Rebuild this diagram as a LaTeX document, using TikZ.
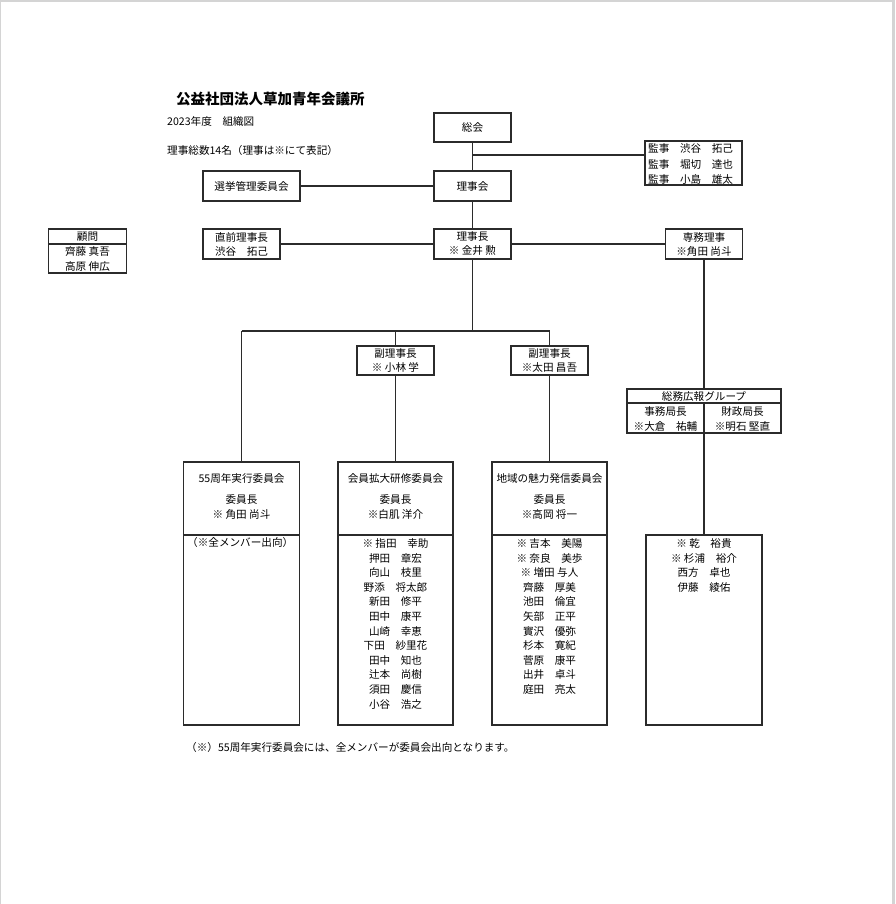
\documentclass[tikz,border=0pt]{standalone}
\usepackage{fontspec}
\newfontfamily\jp{Noto Sans CJK JP}
\definecolor{linec}{HTML}{2B2B2B}
\definecolor{txtc}{HTML}{000000}
\definecolor{pagegray}{HTML}{D4D4D4}
\begin{document}
\begin{tikzpicture}[x=1pt,y=-1pt,
  ln/.style={draw=linec,line width=1.3pt},
  bx/.style={draw=linec,line width=1.3pt,fill=white,inner sep=0pt,align=center,text=txtc,
    font=\jp\fontsize{10.6}{14}\selectfont},
  tx/.style={inner sep=0pt,text=txtc,font=\jp\fontsize{10.6}{14}\selectfont},
]
\fill[pagegray] (0,0) rectangle (895,904);
\fill[white] (1,2) rectangle (892,904);
\useasboundingbox (0,0) rectangle (895,904);

% headings
\node[tx,anchor=west,font=\jp\bfseries\fontsize{14.5}{16}\selectfont] (title) at (176,99) {公益社団法人草加青年会議所};
\node[tx,anchor=west] (year) at (167,121) {2023年度　組織図};
\node[tx,anchor=west] (count) at (167,150) {理事総数14名（理事は※にて表記）};

% top boxes
\node[bx,minimum width=77pt,minimum height=29pt] (sokai) at (472.5,127.5) {総会};
\node[bx,minimum width=77pt,minimum height=30pt] (rijikai) at (472.5,186) {理事会};
\node[bx,minimum width=97pt,minimum height=30pt] (senkyo) at (251.5,186) {選挙管理委員会};
\node[bx,minimum width=97pt,minimum height=44pt] (kanji) at (693.5,163) {};
\node[tx,anchor=west] (kanji1) at (648,148) {監事　渋谷　拓己};
\node[tx,anchor=west] (kanji2) at (648,164) {監事　堀切　達也};
\node[tx,anchor=west] (kanji3) at (648,179) {監事　小島　雄太};

\coordinate (j1) at (472.5,155);
\draw[ln] (sokai) -- (rijikai);
\draw[ln] (j1) -- (kanji.west |- j1);
\draw[ln] (senkyo) -- (rijikai);

% second tier
\node[bx,minimum width=77pt,minimum height=30pt] (rijicho) at (472.5,244) {理事長\\※ 金井 勲};
\node[bx,minimum width=77pt,minimum height=30pt] (chokuzen) at (241.5,244) {直前理事長\\渋谷　拓己};
\node[bx,minimum width=77pt,minimum height=30pt] (senmu) at (704,244) {専務理事\\※角田 尚斗};
\node[bx,minimum width=78pt,minimum height=44pt] (komon) at (87.5,251) {};
\draw[ln] (komon.west |- 0,244) -- (komon.east |- 0,244);
\node[tx] (komon0) at (87.5,236.5) {顧問};
\node[tx] (komon1) at (87.5,252) {齊藤 真吾};
\node[tx] (komon2) at (87.5,266) {高原 伸広};

\draw[ln] (rijikai) -- (rijicho);
\draw[ln] (chokuzen) -- (rijicho);
\draw[ln] (rijicho) -- (senmu);

% third tier
\coordinate (hl) at (241.5,331);
\coordinate (hm) at (472.5,331);
\coordinate (hr) at (549.5,331);
\node[bx,minimum width=77pt,minimum height=29pt] (fuku1) at (395.5,360.5) {副理事長\\※ 小林 学};
\node[bx,minimum width=77pt,minimum height=29pt] (fuku2) at (549.5,360.5) {副理事長\\※太田 昌吾};
\draw[ln] (rijicho) -- (hm);
\draw[ln] (hl) -- (hr);
\draw[ln] (fuku1.north |- hl) -- (fuku1);
\draw[ln] (hr) -- (fuku2);

% committees
\node[bx,minimum width=116pt,minimum height=263pt] (c1) at (241.5,593.5) {};
\node[bx,minimum width=115pt,minimum height=263pt] (c2) at (395.5,593.5) {};
\node[bx,minimum width=115pt,minimum height=263pt] (c3) at (549.5,593.5) {};
\draw[ln] (hl) -- (c1);
\draw[ln] (fuku1) -- (c2);
\draw[ln] (fuku2) -- (c3);

% member box 4 and group box
\node[bx,minimum width=116pt,minimum height=190pt] (m4) at (704,630) {};
\draw[ln] (senmu) -- (m4.north);
\node[bx,minimum width=154pt,minimum height=44pt] (soumu) at (704,411) {};
\draw[ln] (soumu.west |- 0,403) -- (soumu.east |- 0,403);
\draw[ln] (704,403) -- (soumu.south);
\node[tx] (soumu0) at (704,396) {総務広報グループ};
\node[tx] (soumu1) at (665.5,411.5) {事務局長};
\node[tx] (soumu2) at (665.5,426) {※大倉　祐輔};
\node[tx] (soumu3) at (742.5,411.5) {財政局長};
\node[tx] (soumu4) at (742.5,426) {※明石 堅直};

\foreach \b in {c1,c2,c3} {
  \draw[ln] (\b.west |- 0,535) -- (\b.east |- 0,535);
}
\node[tx] (c1t) at (241.5,478) {55周年実行委員会};
\node[tx] (c1h) at (241.5,499) {委員長};
\node[tx] (c1n) at (241.5,514) {※ 角田 尚斗};
\node[tx,anchor=west] (c1m) at (187,542) {（※全メンバー出向）};

\node[tx] (c2t) at (395.5,478) {会員拡大研修委員会};
\node[tx] (c2h) at (395.5,499) {委員長};
\node[tx] (c2n) at (395.5,514) {※白肌 洋介};

\node[tx] (c3t) at (549.5,478) {地域の魅力発信委員会};
\node[tx] (c3h) at (549.5,499) {委員長};
\node[tx] (c3n) at (549.5,514) {※高岡 将一};

\foreach \n [count=\i from 0] in {※ 指田　幸助,押田　章宏,向山　枝里,野添　将太郎,新田　修平,田中　康平,山崎　幸恵,下田　紗里花,田中　知也,辻本　尚樹,須田　慶信,小谷　浩之}
  \node[tx] (c2m\i) at (395.5,543.5+14.6*\i) {\n};

\foreach \n [count=\i from 0] in {※ 吉本　美陽,※ 奈良　美歩,※ 増田 与人,齊藤　厚美,池田　倫宜,矢部　正平,實沢　優弥,杉本　寛紀,菅原　康平,出井　卓斗,庭田　亮太}
  \node[tx] (c3m\i) at (549.5,543.5+14.6*\i) {\n};

\foreach \n [count=\i from 0] in {※ 乾　裕貴,※ 杉浦　裕介,西方　卓也,伊藤　綾佑}
  \node[tx] (m4m\i) at (704,543.5+14.6*\i) {\n};

\node[tx,anchor=west] (foot) at (186,747) {（※）55周年実行委員会には、全メンバーが委員会出向となります。};
\end{tikzpicture}
\end{document}
